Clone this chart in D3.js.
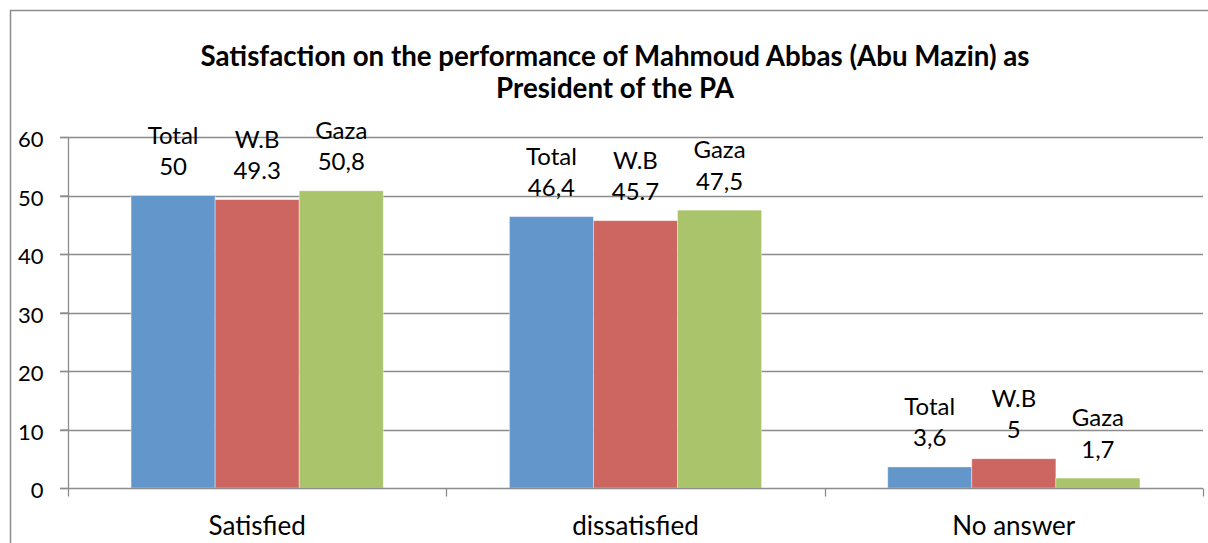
<!DOCTYPE html>
<html>
<head>
<meta charset="utf-8">
<script src="https://cdn.jsdelivr.net/npm/d3@7"></script>
<style>
  html, body { margin: 0; padding: 0; background: #fff; }
  svg { display: block; font-family: "Lato", "Open Sans", sans-serif; }
</style>
</head>
<body>
<div id="container"></div>
<script>
"use strict"

/* DATA
 */
const categories = ["Satisfied", "dissatisfied", "No answer"];
const seriesNames = ["Total", "W.B", "Gaza"];
const totalValues = [50, 46.4, 3.6];
const wbValues = [49.3, 45.7, 5];
const gazaValues = [50.8, 47.5, 1.7];
// value labels as printed in the chart (mixed decimal marks)
const totalLabels = ["50", "46,4", "3,6"];
const wbLabels = ["49.3", "45.7", "5"];
const gazaLabels = ["50,8", "47,5", "1,7"];
const yTicks = [0, 10, 20, 30, 40, 50, 60];
const titleLines = ["Satisfaction on the performance of Mahmoud Abbas (Abu Mazin) as",
                    "President of the PA"];

const colors = ["#6397cb", "#cd6561", "#aac46b"];

/* CHART
 */
const W = 1208, H = 543;
const plot = {left: 68, right: 1203, top: 137, bottom: 488};

const svg = d3.select("#container").append("svg")
    .attr("width", W)
    .attr("height", H);

svg.append("rect")
    .attr("x", 10.5).attr("y", 10.5)
    .attr("width", W).attr("height", H)
    .attr("fill", "none")
    .attr("stroke", "#8c8c8c")
    .attr("stroke-width", 1.5);

const x = d3.scaleBand()
    .domain(categories)
    .range([plot.left, plot.right]);

const xs = d3.scaleBand()
    .domain(seriesNames)
    .range([0, x.bandwidth()])
    .paddingOuter(0.75);

const y = d3.scaleLinear()
    .domain([0, 60])
    .range([plot.bottom, plot.top]);

// gridlines
svg.append("g")
    .selectAll("line")
    .data(yTicks.filter((d) => d > 0))
    .join("line")
    .attr("x1", plot.left - 8).attr("x2", plot.right)
    .attr("y1", (d) => Math.round(y(d)) + 0.5)
    .attr("y2", (d) => Math.round(y(d)) + 0.5)
    .attr("stroke", "#8c8c8c")
    .attr("stroke-width", 1.3);

// bars
const rows = categories.map((c, i) => [
    {cat: c, s: "Total", v: totalValues[i], label: totalLabels[i]},
    {cat: c, s: "W.B", v: wbValues[i], label: wbLabels[i]},
    {cat: c, s: "Gaza", v: gazaValues[i], label: gazaLabels[i]}
]).flat();

svg.append("g")
    .selectAll("rect")
    .data(rows)
    .join("rect")
    .attr("x", (d) => x(d.cat) + xs(d.s))
    .attr("y", (d) => y(d.v))
    .attr("width", xs.bandwidth())
    .attr("height", (d) => y(0) - y(d.v))
    .attr("fill", (d) => colors[seriesNames.indexOf(d.s)])
    .attr("stroke", "rgba(255,255,255,0.5)")
    .attr("stroke-width", 0.8);

// value labels
const lab = svg.append("g")
    .attr("text-anchor", "middle")
    .attr("font-size", 24)
    .attr("fill", "#000");

lab.selectAll("text.name")
    .data(rows)
    .join("text")
    .attr("class", "name")
    .attr("x", (d) => x(d.cat) + xs(d.s) + xs.bandwidth() / 2)
    .attr("y", (d) => y(d.v) - 52)
    .text((d) => d.s);

lab.selectAll("text.val")
    .data(rows)
    .join("text")
    .attr("class", "val")
    .attr("x", (d) => x(d.cat) + xs(d.s) + xs.bandwidth() / 2)
    .attr("y", (d) => y(d.v) - 20.5)
    .text((d) => d.label);

// y axis
const yAxis = svg.append("g")
    .attr("transform", `translate(${plot.left + 0.5},0)`)
    .call(d3.axisLeft(y).tickValues(yTicks).tickSize(8).tickPadding(17));
yAxis.select(".domain").attr("stroke", "#8c8c8c").attr("stroke-width", 1.3)
    .attr("d", `M0,${plot.top}V${plot.bottom + 0.5}`);
yAxis.selectAll(".tick line").attr("stroke", "#8c8c8c").attr("stroke-width", 1.3);
yAxis.selectAll(".tick text")
    .attr("font-size", 22)
    .attr("dy", "0.45em")
    .attr("font-family", "Lato, 'Open Sans', sans-serif")
    .attr("fill", "#000");

// x axis
const xAxis = svg.append("g")
    .attr("transform", `translate(0,${Math.round(plot.bottom) + 0.5})`);
xAxis.append("line")
    .attr("x1", plot.left - 8).attr("x2", plot.right)
    .attr("stroke", "#8c8c8c").attr("stroke-width", 1.3);
xAxis.selectAll("line.tick")
    .data(categories.map((c) => x(c)).concat([plot.right]))
    .join("line")
    .attr("class", "tick")
    .attr("x1", (d) => Math.round(d) + 0.5)
    .attr("x2", (d) => Math.round(d) + 0.5)
    .attr("y1", 0).attr("y2", 8)
    .attr("stroke", "#8c8c8c").attr("stroke-width", 1.3);
xAxis.selectAll("text")
    .data(categories)
    .join("text")
    .attr("x", (d) => x(d) + x.bandwidth() / 2)
    .attr("y", 46)
    .attr("text-anchor", "middle")
    .attr("font-size", 26)
    .attr("fill", "#000")
    .text((d) => d);

// title
svg.append("g")
    .attr("text-anchor", "middle")
    .attr("font-weight", "bold")
    .attr("font-size", 27.7)
    .selectAll("text")
    .data(titleLines)
    .join("text")
    .attr("x", 615)
    .attr("y", (d, i) => 66 + i * 32)
    .text((d) => d);
</script>
</body>
</html>
